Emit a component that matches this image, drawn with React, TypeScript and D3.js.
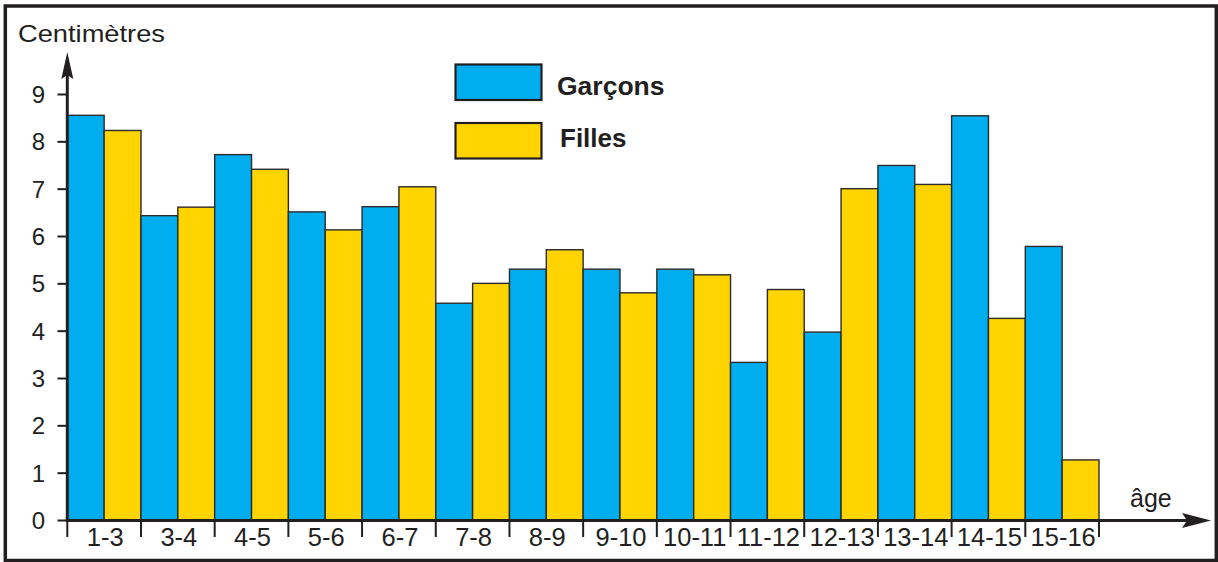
import React from "react";
import * as d3 from "d3";

const categories = ["1-3", "3-4", "4-5", "5-6", "6-7", "7-8", "8-9", "9-10", "10-11", "11-12", "12-13", "13-14", "14-15", "15-16"];
const garcons = [8.56, 6.44, 7.73, 6.52, 6.63, 4.59, 5.31, 5.31, 5.31, 3.34, 3.98, 7.5, 8.55, 5.79];
const filles = [8.24, 6.62, 7.42, 6.14, 7.05, 5.01, 5.72, 4.81, 5.19, 4.88, 7.01, 7.1, 4.27, 1.28];
const yTicks = [0, 1, 2, 3, 4, 5, 6, 7, 8, 9];
const seriesNames = ["Garçons", "Filles"];
const colors = ["#00AEEF", "#FFD400"];

const W = 1218;
const H = 562;
const X0 = 67.3;
const X1 = 1099;
const Y0 = 520.5;
const Y9 = 94.5;
const INK = "#231F20";
const FONT = "'Liberation Sans', Arial, Helvetica, sans-serif";

export default function App() {
  const x = d3.scaleBand<string>().domain(categories).range([X0, X1]).paddingInner(0).paddingOuter(0);
  const xi = d3.scaleBand<string>().domain(seriesNames).range([0, x.bandwidth()]).padding(0);
  const y = d3.scaleLinear().domain([0, 9]).range([Y0, Y9]);
  const series = [garcons, filles];

  const boundaries = categories.map((c) => x(c) as number).concat([X1]);

  return (
    <svg width={W} height={H} style={{ position: "absolute", left: 0, top: 0, background: "#fff" }} fontFamily={FONT}>
      <rect x={0} y={0} width={W} height={H} fill="#fff" />
      {/* frame */}
      <rect x={5.3} y={6} width={1211} height={554.5} fill="none" stroke={INK} strokeWidth={3.5} />

      {/* bars */}
      {categories.map((c, i) =>
        series.map((s, k) => {
          const bx = (x(c) as number) + (xi(seriesNames[k]) as number);
          return (
            <rect
              key={c + k}
              x={bx}
              y={y(s[i])}
              width={xi.bandwidth()}
              height={Y0 - y(s[i])}
              fill={colors[k]}
              stroke="#2b2b2b"
              strokeWidth={1.4}
            />
          );
        })
      )}

      {/* y axis */}
      <line x1={X0} x2={X0} y1={Y0 + 1.5} y2={70} stroke={INK} strokeWidth={3} />
      <path d={`M${X0},52 L${X0 + 6},79 L${X0},75 L${X0 - 6},79 Z`} fill={INK} />
      {yTicks.map((t) => (
        <g key={t}>
          <line x1={57.5} x2={X0} y1={y(t)} y2={y(t)} stroke={INK} strokeWidth={2} />
          <text x={45} y={y(t)} dy="0.36em" textAnchor="end" fontSize={24} fill={INK}>
            {t}
          </text>
        </g>
      ))}
      <text x={18} y={41.5} fontSize={24.5} fill={INK} textLength={147} lengthAdjust="spacingAndGlyphs">
        Centimètres
      </text>

      {/* x axis */}
      <line x1={X0 - 1.5} x2={1190} y1={Y0} y2={Y0} stroke={INK} strokeWidth={3} />
      <path d={`M1211,${Y0} L1182,${Y0 - 7.5} L1187,${Y0} L1182,${Y0 + 7.5} Z`} fill={INK} />
      {boundaries.map((b, i) => (
        <line key={i} x1={b} x2={b} y1={Y0} y2={537} stroke={INK} strokeWidth={2} />
      ))}
      {categories.map((c) => (
        <text
          key={c}
          x={(x(c) as number) + x.bandwidth() / 2 + 1}
          y={546}
          textAnchor="middle"
          fontSize={25.5}
          fill={INK}
        >
          {c}
        </text>
      ))}
      <text x={1130} y={506.5} fontSize={25} fill={INK}>
        âge
      </text>

      {/* legend */}
      {seriesNames.map((n, k) => (
        <g key={n}>
          <rect
            x={455.5}
            y={k === 0 ? 64.5 : 123}
            width={86}
            height={35.5}
            fill={colors[k]}
            stroke={INK}
            strokeWidth={2.2}
          />
          <text
            x={k === 0 ? 557 : 560}
            y={k === 0 ? 95 : 147}
            fontSize={k === 0 ? 26.5 : 26}
            fontWeight="bold"
            fill={INK}
          >
            {n}
          </text>
        </g>
      ))}
    </svg>
  );
}
